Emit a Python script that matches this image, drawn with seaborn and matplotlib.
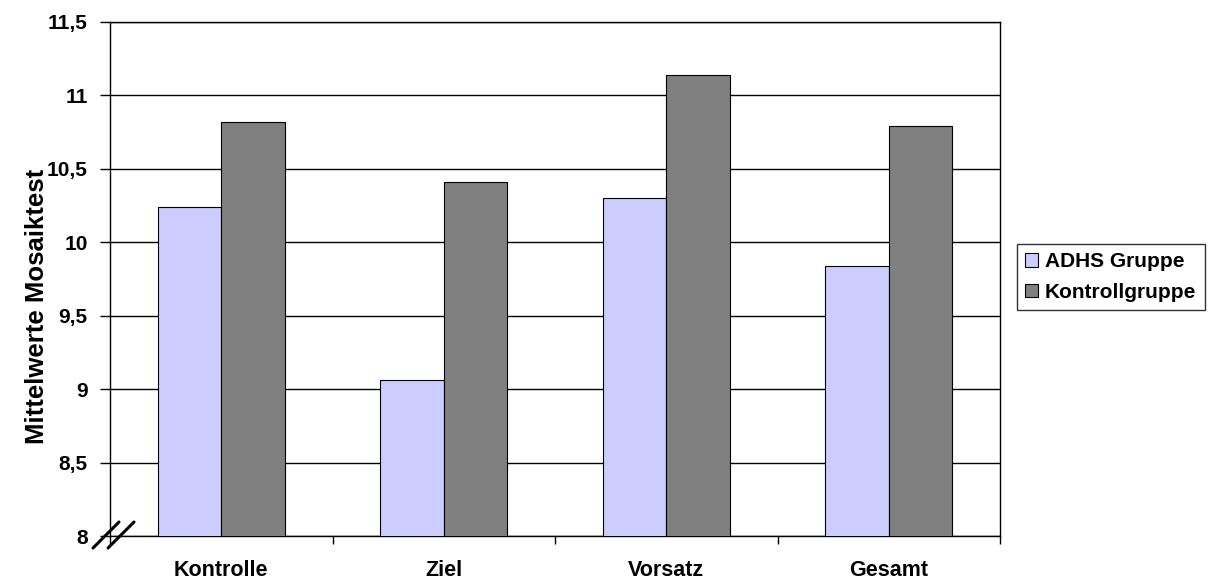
import matplotlib
matplotlib.use("Agg")
import matplotlib.pyplot as plt
import matplotlib.transforms as mtransforms
from matplotlib.lines import Line2D
import seaborn as sns
import pandas as pd

# Mean scores of the mosaic test per condition
conditions = ["Kontrolle", "Ziel", "Vorsatz", "Gesamt"]
adhs_group = [10.24, 9.06, 10.30, 9.84]
control_group = [10.82, 10.41, 11.14, 10.79]
group_names = ["ADHS Gruppe", "Kontrollgruppe"]
y_ticks = [8, 8.5, 9, 9.5, 10, 10.5, 11, 11.5]
y_tick_labels = ["8", "8,5", "9", "9,5", "10", "10,5", "11", "11,5"]

df = pd.DataFrame({
    "Bedingung": conditions * 2,
    "Wert": adhs_group + control_group,
    "Gruppe": [group_names[0]] * len(conditions) + [group_names[1]] * len(conditions),
})

sns.set_theme(style="white")
plt.rcParams["font.family"] = ["Liberation Sans", "DejaVu Sans"]
plt.rcParams["font.weight"] = "bold"

fig = plt.figure(figsize=(12.10, 5.83), dpi=100)
ax = fig.add_axes([110 / 1210, 1 - 536 / 583, 890 / 1210, 514 / 583])

palette = {group_names[0]: "#CCCCFF", group_names[1]: "#808080"}
sns.barplot(data=df, x="Bedingung", y="Wert", hue="Gruppe", order=conditions,
            hue_order=group_names, palette=palette, width=0.57,
            edgecolor="black", linewidth=0.8, saturation=1, ax=ax, zorder=3)

ax.set_ylim(8, 11.5)
ax.set_xlim(-0.5, len(conditions) - 0.5)
ax.set_yticks(y_ticks)
ax.set_yticklabels(y_tick_labels, fontsize=15, fontweight="bold", color="black")
ax.yaxis.grid(True, color="black", linewidth=1.0, zorder=0)
ax.set_axisbelow(True)

# category labels without marks; marks on the boundaries between categories
ax.set_xticks(range(len(conditions)))
ax.set_xticklabels(conditions, fontsize=15.5, fontweight="bold", color="black")
ax.set_xticks([i - 0.5 for i in range(len(conditions) + 1)], minor=True)
ax.tick_params(axis="x", which="major", length=0, pad=17)
ax.tick_params(axis="x", which="minor", length=6, width=1, color="black", direction="out", bottom=True)
ax.tick_params(axis="y", which="major", length=7, width=1, color="black", direction="out", left=True, pad=9)

ax.set_xlabel("")
ax.set_ylabel("Mittelwerte Mosaiktest", fontsize=18.5, fontweight="bold", color="black")
ax.yaxis.set_label_coords(-0.068, 0.447)

for side in ["left", "bottom", "top", "right"]:
    ax.spines[side].set_visible(True)
    ax.spines[side].set_color("black")
    ax.spines[side].set_linewidth(1.0)

# axis break marks at the origin
for dx in (-10, 5):
    off0 = mtransforms.ScaledTranslation((dx - 7) / 100, -12 / 100, fig.dpi_scale_trans)
    off1 = mtransforms.ScaledTranslation((dx + 19) / 100, 14 / 100, fig.dpi_scale_trans)
    p0 = (ax.transAxes + off0).transform((0, 0))
    p1 = (ax.transAxes + off1).transform((0, 0))
    ax.add_line(Line2D([p0[0], p1[0]], [p0[1], p1[1]], transform=None,
                       color="black", linewidth=2.2, clip_on=False, zorder=5))

handles, labels = ax.get_legend_handles_labels()
ax.legend_.remove()
leg = fig.legend(handles, labels, loc="upper left",
                 bbox_to_anchor=(1017 / 1210, 1 - 244 / 583),
                 bbox_transform=fig.transFigure, frameon=True, fancybox=False,
                 prop={"size": 15, "weight": "bold"}, handlelength=0.6,
                 handleheight=0.6, handletextpad=0.35, borderpad=0.4,
                 labelspacing=0.55, borderaxespad=0)
leg.get_frame().set_edgecolor("black")
leg.get_frame().set_linewidth(1.0)
for t in leg.get_texts():
    t.set_color("black")

fig.savefig("out.png", dpi=100)
